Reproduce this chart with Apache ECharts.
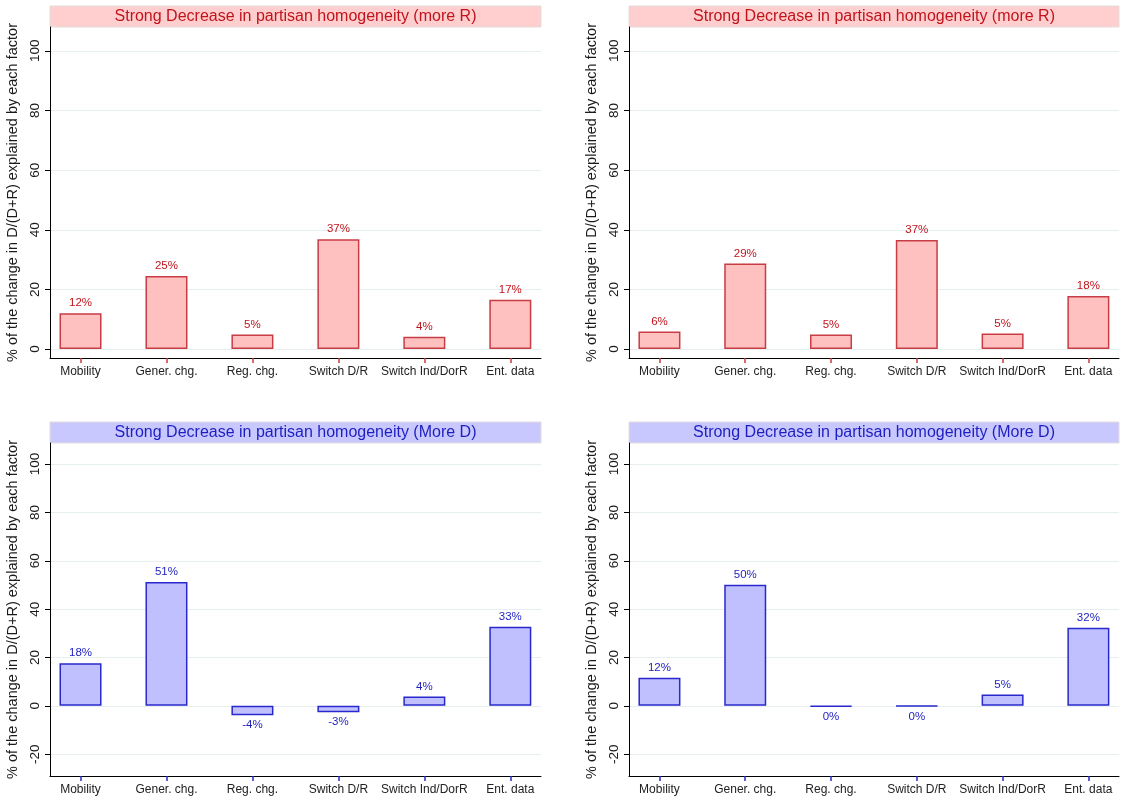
<!DOCTYPE html>
<html>
<head>
<meta charset="utf-8">
<script src="https://cdn.jsdelivr.net/npm/echarts@6/dist/echarts.min.js"></script>
<style>
  html, body { margin: 0; padding: 0; background: #fff; }
  #chart { width: 1121px; height: 798px; }
</style>
</head>
<body>
<div id="chart"></div>
<script>
const categories = ['Mobility', 'Gener. chg.', 'Reg. chg.', 'Switch D/R', 'Switch Ind/DorR', 'Ent. data'];

const titleR = 'Strong Decrease in partisan homogeneity (more R)';
const titleD = 'Strong Decrease in partisan homogeneity (More D)';
const yName = '% of the change in D/(D+R) explained by each factor';

// values (percent)
const rLeft = [12, 24.5, 4.9, 36.8, 4.1, 16.5];
const rRight = [5.9, 28.7, 4.9, 36.6, 5.2, 17.8];
const dLeft = [17.6, 51.2, -3.9, -2.6, 3.9, 32.7];
const dRight = [11.6, 50.1, -0.3, -0.2, 4.7, 32.3];

const topTicks = [0, 20, 40, 60, 80, 100];
const bottomTicks = [-20, 0, 20, 40, 60, 80, 100];

const FONT = 'Liberation Sans';

const red = { fill: '#ffc0c0', border: '#c83c44', text: '#c0141c', band: '#ffcfcf' };
const blue = { fill: '#c0c0ff', border: '#2828cc', text: '#1e1ec0', band: '#c8c8ff' };

const panels = [
  { left: 50, top: 27, width: 491, height: 331, min: -3, max: 108, ticks: topTicks, data: rLeft, c: red, title: titleR },
  { left: 629, top: 27, width: 490, height: 331, min: -3, max: 108, ticks: topTicks, data: rRight, c: red, title: titleR },
  { left: 50, top: 443, width: 491, height: 333, min: -29, max: 108.7, ticks: bottomTicks, data: dLeft, c: blue, title: titleD },
  { left: 629, top: 443, width: 490, height: 333, min: -29, max: 108.7, ticks: bottomTicks, data: dRight, c: blue, title: titleD },
];

const catIdx = categories.map((_, i) => i);

const chart = echarts.init(document.getElementById('chart'), null, { width: 1121, height: 798 });

chart.setOption({
  animation: false,
  backgroundColor: '#ffffff',
  textStyle: { fontFamily: FONT },
  title: panels.map(p => ({
    text: p.title,
    left: p.left + p.width / 2,
    top: p.top - 10.5,
    textAlign: 'center',
    textVerticalAlign: 'middle',
    padding: 0,
    textStyle: { fontFamily: FONT, fontSize: 16, fontWeight: 'normal', color: p.c.text },
  })),
  graphic: panels.map(p => ({
    type: 'rect',
    silent: true,
    z: -1,
    shape: { x: p.left, y: p.top - 21, width: p.width, height: 21 },
    style: { fill: p.c.band, stroke: '#e4dcdc', lineWidth: 1 },
  })),
  grid: panels.map(p => ({ left: p.left, top: p.top, width: p.width, height: p.height })),
  xAxis: panels.map((p, i) => ({
    type: 'value',
    gridIndex: i,
    min: -0.355,
    max: 5.357,
    splitLine: { show: false },
    axisLine: { show: true, onZero: false, lineStyle: { color: '#000', width: 1 } },
    axisTick: { show: true, length: 5, customValues: catIdx, lineStyle: { color: p.c.border, width: 1.5 } },
    axisLabel: {
      customValues: catIdx,
      margin: 8,
      fontFamily: FONT,
      fontSize: 12,
      color: '#222',
      formatter: v => categories[Math.round(v)],
    },
  })),
  yAxis: panels.map((p, i) => ({
    type: 'value',
    gridIndex: i,
    min: p.min,
    max: p.max,
    name: yName,
    nameLocation: 'middle',
    nameGap: 30,
    nameTextStyle: { fontFamily: FONT, fontSize: 14.5, color: '#1a1a1a' },
    axisLine: { show: true, onZero: false, lineStyle: { color: '#000', width: 1 } },
    axisTick: { show: true, length: 5, customValues: p.ticks, lineStyle: { color: '#000' } },
    axisLabel: {
      customValues: p.ticks,
      rotate: 90,
      margin: 8,
      fontFamily: FONT,
      fontSize: 13.5,
      color: '#1a1a1a',
    },
    splitLine: { show: true, lineStyle: { color: '#e6eef0', width: 1 } },
  })),
  series: panels.map((p, i) => ({
    type: 'bar',
    xAxisIndex: i,
    yAxisIndex: i,
    barWidth: 42,
    itemStyle: { color: p.c.fill, borderColor: p.c.border, borderWidth: 1.5 },
    label: {
      show: true,
      fontFamily: FONT,
      fontSize: 11.5,
      color: p.c.text,
      distance: 4,
      formatter: d => Math.round(d.value[1]) + '%',
    },
    data: p.data.map((v, k) => ({
      value: [k, v],
      label: { position: v < 0 ? 'bottom' : 'top' },
    })),
  })),
});
</script>
</body>
</html>
